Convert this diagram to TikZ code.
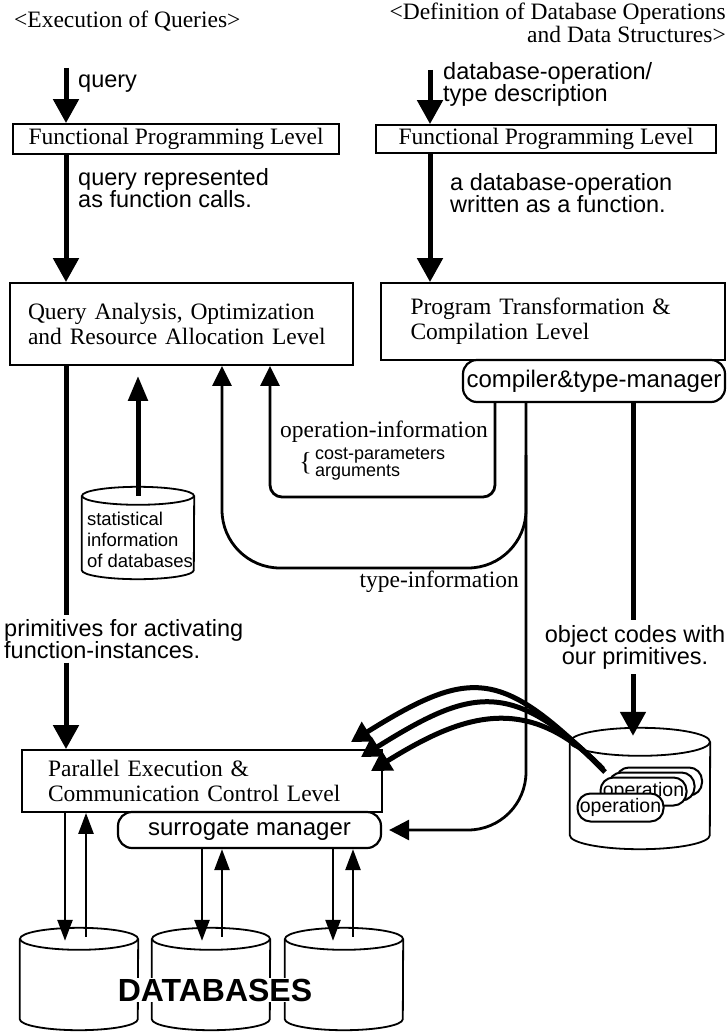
\documentclass[tikz,border=0pt]{standalone}
\usepackage{fontspec}
\setmainfont{Liberation Serif}
\setsansfont{Liberation Sans}
\usetikzlibrary{arrows.meta,calc}

\begin{document}
\begin{tikzpicture}[x=1pt,y=-1pt,
  lvl/.style={draw,line width=1.8pt,fill=white,font=\fontsize{23.5}{25}\selectfont,inner sep=0pt},
  pill/.style={draw,line width=2.2pt,fill=white,rounded corners=14pt,font=\sffamily\fontsize{24}{26}\selectfont,inner sep=0pt},
  oppill/.style={draw,line width=2pt,fill=white,rounded corners=13pt,minimum width=86pt,minimum height=28pt,inner sep=0pt,font=\sffamily\fontsize{19.5}{20}\selectfont},
  body/.style={inner sep=0pt},
  cylline/.style={line width=1.8pt},
  lbl/.style={font=\sffamily\fontsize{23.5}{22}\selectfont,align=left,inner sep=0pt},
  serlbl/.style={font=\fontsize{23.5}{20}\selectfont,inner sep=0pt},
  smalllbl/.style={font=\sffamily\fontsize{18}{17}\selectfont,align=left,inner sep=0pt},
  big/.style={line width=5pt,-{Triangle[length=24pt,width=25pt]}},
  info/.style={line width=2.8pt,-{Triangle[length=20pt,width=19pt]}},
  curv/.style={line width=5pt,-{Triangle[length=20pt,width=22pt]}},
  dbarr/.style={line width=2.5pt,-{Triangle[length=21pt,width=15pt]}}]
  \useasboundingbox (0,0) rectangle (727,1032);

  % titles
  \node[serlbl,anchor=base west] (ttlL) at (14,28) {<Execution of Queries>};
  \node[serlbl,anchor=north east,align=right] (ttlR) at (726,3) {<Definition of Database Operations\\and Data Structures>};

  % levels
  \node[lvl,minimum width=326pt,minimum height=30pt] (fplL) at (176,139) {Functional Programming Level};
  \node[lvl,minimum width=340pt,minimum height=28pt] (fplR) at (546,139) {Functional Programming Level};
  \node[lvl,minimum width=343pt,minimum height=82pt,text width=307pt,align=left] (qa) at (181.5,324) {Query Analysis, Optimization\\and Resource Allocation Level};
  \node[lvl,minimum width=344pt,minimum height=77pt,text width=285pt,align=left] (pt) at (553,321.5) {Program Transformation \&\\Compilation Level};
  \node[lvl,minimum width=360pt,minimum height=62pt,text width=308pt,align=left] (par) at (202,781) {Parallel Execution \&\\Communication Control Level};
  \node[pill,minimum width=262pt,minimum height=42pt] (ctm) at (594,381) {compiler\&type-manager};
  \node[pill,minimum width=263pt,minimum height=36pt] (sm) at (249.5,830) {surrogate manager};

  % stores
  \node[body,minimum width=112pt,minimum height=74pt] (stat) at (138,533) {};
  \node[body,minimum width=140pt,minimum height=93pt] (opdb) at (640,788.5) {};
  \node[body,minimum width=118pt,minimum height=80pt] (db1) at (79,979) {};
  \node[body,minimum width=118pt,minimum height=80pt] (db2) at (211,979) {};
  \node[body,minimum width=118pt,minimum height=80pt] (db3) at (344,979) {};
  \foreach \c/\rx/\ry in {stat/56/9,opdb/70/14,db1/59/11,db2/59/11,db3/59/11}{
    \draw[cylline] (\c.north west) -- (\c.south west)
      arc[start angle=180,end angle=360,x radius=\rx pt,y radius=\ry pt] -- (\c.north east);
    \draw[cylline] (\c.north) ellipse[x radius=\rx pt,y radius=\ry pt];
  }
  \node[smalllbl,font=\sffamily\fontsize{18.5}{21}\selectfont] (statlbl) at (140,540) {statistical\\information\\of databases};
  \node[fill=white,inner sep=1pt,font=\sffamily\bfseries\fontsize{32}{32}\selectfont] (dbs) at (215,990) {DATABASES};
  \node[oppill] (op4) at (659,781.5) {};
  \node[oppill] (op3) at (651.5,786.5) {};
  \node[oppill] (op2) at (643.5,791.5) {operation};
  \node[oppill] (op1) at (620.5,807.5) {operation};

  % labels
  \node[lbl,anchor=base west] (qlbl) at (78,88) {query};
  \node[lbl,anchor=north west] (dlbl) at (443,62) {database-operation/\\type description};
  \node[lbl,anchor=north west] (qrlbl) at (78,168) {query represented\\as function calls.};
  \node[lbl,anchor=north west] (dolbl) at (450,173) {a database-operation\\written as a function.};
  \node[lbl,anchor=north west,inner ysep=4pt] (primlbl) at (4,615) {primitives for activating\\function-instances.};
  \node[lbl,align=center,inner ysep=5pt] (objlbl) at (635,647) {object codes with\\our primitives.};
  \node[serlbl,anchor=base west] (oilbl) at (280,437) {operation-information};
  \node[smalllbl,anchor=north west] (costlbl) at (315,448) {cost-parameters\\arguments};
  \node[anchor=east,inner sep=0pt,font=\fontsize{26}{26}\selectfont] (brace) at (312,463) {\{};
  \node[serlbl,anchor=base east] (tilbl) at (519,587) {type-information};

  \coordinate (qin) at (66,68);
  \coordinate (din) at (430,70);
  \coordinate (oc) at (633,0);
  \coordinate (opin) at ($(opdb.north)+(-7,-6)$);
  \coordinate (oiA) at (495,497);
  \coordinate (oiB) at (270,497);
  \coordinate (tiR) at (526,455);
  \coordinate (tiA) at (526,568);
  \coordinate (tiB) at (222,568);

  \draw[big] (qin) -- (qin |- fplL.north);
  \draw[big] (fplL.south -| qin) -- (qa.north -| qin);
  \draw[big] (din) -- (din |- fplR.north);
  \draw[big] (fplR.south -| din) -- (pt.north -| din);
  \draw[line width=5pt] (qa.south -| qin) -- (primlbl.north -| qin);
  \draw[big] (primlbl.south -| qin) -- (par.north -| qin);
  \draw[line width=5pt] (ctm.south -| oc) -- (objlbl.north -| oc);
  \draw[big] (objlbl.south -| oc) -- (opin);
  \draw[line width=5pt,-{Triangle[length=25pt,width=19pt]},shorten >=10pt] (stat.north) -- (qa.south -| stat.north);

  % information paths
  \draw[info,rounded corners=12pt] (ctm.south -| oiA) -- (oiA) -- (oiB) -- (qa.south -| oiB);
  \draw[info,rounded corners=58pt] (tiR) -- (tiA) -- (tiB) -- (qa.south -| tiB);
  \draw[info,-{Triangle[length=20pt,width=20pt]},rounded corners=58pt,shorten >=7pt] (ctm.south -| tiR) -- (tiR |- sm.east) -- (sm.east);

  % loading object codes
  \coordinate (src) at (605,772);
  \draw[curv] (src) .. controls (502,669) and (473,666) .. ($(par.north east)+(-32,-7)$);
  \draw[curv] ($(src)+(-2,-3)$) .. controls (511,677) and (470,689) .. ($(par.north east)+(-22,8)$);
  \draw[curv] ($(src)+(-5,-6)$) .. controls (525,691) and (460,716) .. ($(par.north east)+(-12,22)$);

  \foreach \db/\src/\dx/\ux in {db1/par/-14/7,db2/sm/-9/11,db3/sm/-11/9}{
    \path ($(\db.north)+(\dx,0)$) coordinate (dn) ($(\db.north)+(\ux,0)$) coordinate (up);
    \draw[dbarr] (dn |- \src.south) -- ($(dn)+(0,2)$);
    \draw[dbarr] ($(up)+(0,-2)$) -- (up |- \src.south);
  }
\end{tikzpicture}
\end{document}
